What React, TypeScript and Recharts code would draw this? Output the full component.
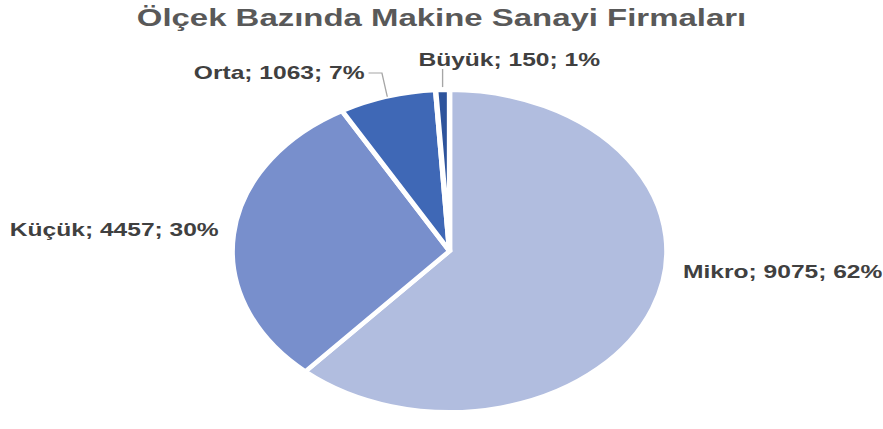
import { PieChart, Pie, Cell } from 'recharts';

const categories = ['Mikro', 'Küçük', 'Orta', 'Büyük'];
const counts = [9075, 4457, 1063, 150];
const colors = ['#B1BDDF', '#788FCC', '#3F68B6', '#2E549C'];

const STRETCH = 1.35;
const W = 883 / STRETCH;
const H = 429;
const CX = 333;
const CY = 251;
const R = 161;
const RAD = Math.PI / 180;

// label placement relative to pie centre (unstretched units)
const labelLayout: Record<string, { dx: number; dy: number; anchor: 'start' | 'end'; leader?: 'elbow' | 'down' }> = {
  Mikro: { dx: 173, dy: 21, anchor: 'start' },
  Küçük: { dx: -171, dy: -21, anchor: 'end' },
  Orta: { dx: -63, dy: -178, anchor: 'end', leader: 'elbow' },
  Büyük: { dx: -23, dy: -191, anchor: 'start', leader: 'down' },
};

const data = categories.map((name, i) => ({ name, value: counts[i] }));

const renderLabel = (props: any) => {
  const { cx, cy, midAngle, outerRadius, name, value, percent } = props;
  const spot = labelLayout[name];
  const x = cx + spot.dx;
  const y = cy + spot.dy;
  const ex = cx + outerRadius * Math.cos(-midAngle * RAD);
  const ey = cy + outerRadius * Math.sin(-midAngle * RAD);
  let leader = null;
  if (spot.leader === 'elbow') {
    leader = <polyline points={`${x + 3},${y} ${ex - 4},${y} ${ex},${ey}`} fill="none" stroke="#A6A6A6" strokeWidth={1} />;
  } else if (spot.leader === 'down') {
    leader = <polyline points={`${ex},${y + 9} ${ex},${ey - 3}`} fill="none" stroke="#A6A6A6" strokeWidth={1} />;
  }
  return (
    <g>
      {leader}
      <text
        x={x}
        y={y}
        textAnchor={spot.anchor}
        dominantBaseline="central"
        fill="#404040"
        fontSize={18.2}
        fontWeight="bold"
        fontFamily="'Liberation Sans', Arial, sans-serif"
      >
        {`${name}; ${value}; ${Math.round(percent * 100)}%`}
      </text>
    </g>
  );
};

export default function App() {
  return (
    <div style={{ position: 'absolute', left: 0, top: 0, width: 883, height: H, background: '#fff', overflow: 'hidden' }}>
      <div style={{ position: 'absolute', left: 0, top: 0, width: W, height: H, transform: `scaleX(${STRETCH})`, transformOrigin: '0 0' }}>
        <div
          style={{
            position: 'absolute',
            left: 0,
            top: 4,
            width: W,
            textAlign: 'center',
            fontFamily: "'Liberation Sans', Arial, sans-serif",
            fontWeight: 'bold',
            fontSize: 24.4,
            color: '#595959',
            lineHeight: '28px',
          }}
        >
          Ölçek Bazında Makine Sanayi Firmaları
        </div>
        <PieChart width={W} height={H} margin={{ top: 0, right: 0, bottom: 0, left: 0 }} style={{ position: 'absolute', left: 0, top: 0 }}>
          <Pie
            data={data}
            dataKey="value"
            nameKey="name"
            cx={CX}
            cy={CY}
            outerRadius={R}
            startAngle={90}
            endAngle={-270}
            stroke="#FFFFFF"
            strokeWidth={4}
            label={renderLabel}
            labelLine={false}
            isAnimationActive={false}
          >
            {data.map((d, i) => (
              <Cell key={d.name} fill={colors[i]} />
            ))}
          </Pie>
        </PieChart>
      </div>
    </div>
  );
}
